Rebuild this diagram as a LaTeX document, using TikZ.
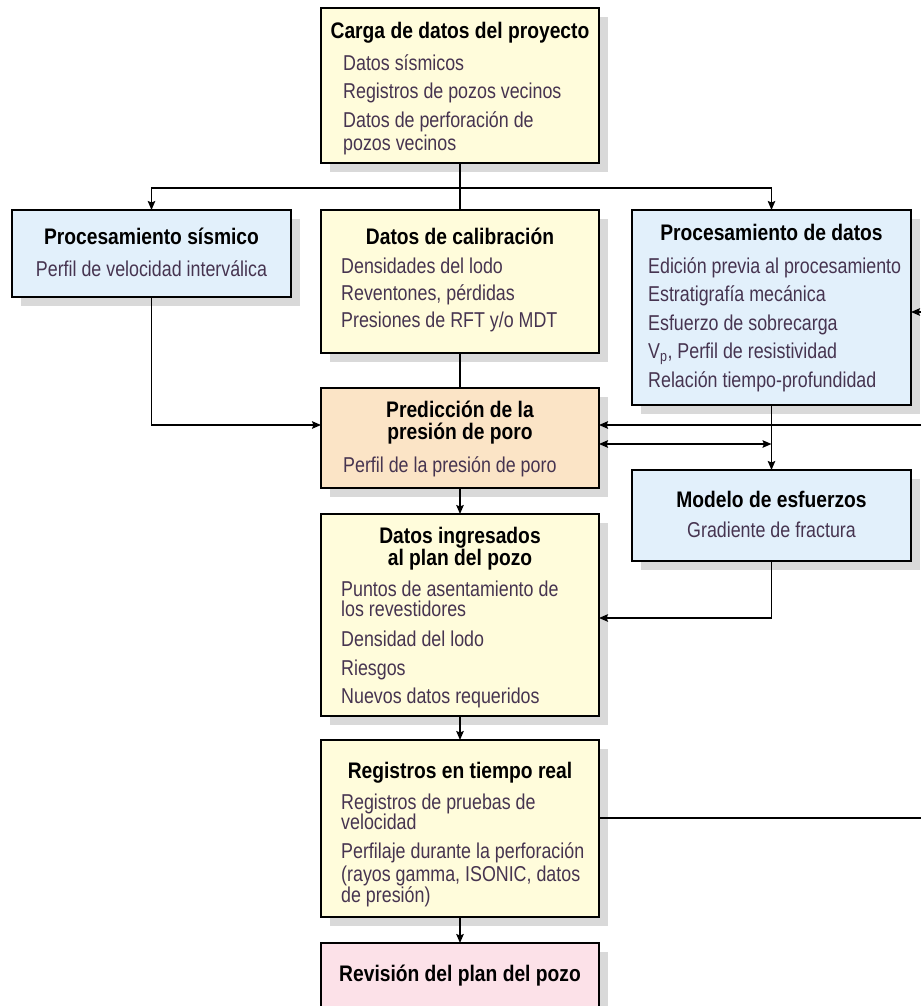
\documentclass[tikz,border=0pt]{standalone}
\usepackage{fontspec}
\usetikzlibrary{arrows.meta,shadows}
\newfontfamily\itemfont{Liberation Sans}[FakeStretch=0.83]
\newfontfamily\headfont{Liberation Sans}[FakeStretch=0.855]
\definecolor{creamfill}{RGB}{255,252,219}
\definecolor{bluefill}{RGB}{226,240,251}
\definecolor{peachfill}{RGB}{251,228,198}
\definecolor{pinkfill}{RGB}{252,225,232}
\definecolor{shadowgray}{RGB}{217,217,217}
\definecolor{itemcol}{RGB}{70,52,80}
\tikzset{
  box/.style={draw=black, line width=1.6pt, inner sep=0pt, outer sep=0pt,
    drop shadow={shadow xshift=9pt, shadow yshift=-9pt, fill=shadowgray, opacity=1}},
  cream/.style={box, fill=creamfill},
  blue/.style={box, fill=bluefill},
  peach/.style={box, fill=peachfill},
  pink/.style={box, fill=pinkfill},
  head/.style={font=\headfont\bfseries\fontsize{22.5}{22.5}\selectfont, inner sep=0pt, anchor=base},
  item/.style={font=\itemfont\fontsize{21.5}{21.5}\selectfont, text=itemcol, inner sep=0pt, anchor=base west},
  itemc/.style={item, anchor=base},
  conn/.style={draw=black, line width=1.5pt},
  arr/.style={conn, -{Stealth[length=9pt, width=7.5pt, inset=1.5pt]}},
  dblarr/.style={conn, {Stealth[length=9pt, width=7.5pt, inset=1.5pt]}-{Stealth[length=9pt, width=7.5pt, inset=1.5pt]}}
}
\begin{document}
\begin{tikzpicture}[x=1pt, y=-1pt]
\useasboundingbox (0,0) rectangle (921,1006);
\clip (0,0) rectangle (921,1006);
\fill[white] (0,0) rectangle (921,1006);

% ---- boxes ----
\node[cream, minimum width=278pt, minimum height=155pt] (carga) at (460,85.5) {};
\node[blue,  minimum width=279pt, minimum height=87pt]  (sism)  at (151.5,253.5) {};
\node[cream, minimum width=278pt, minimum height=143pt] (calib) at (460,281.5) {};
\node[blue,  minimum width=279pt, minimum height=195pt] (procd) at (771.5,307.5) {};
\node[peach, minimum width=278pt, minimum height=100pt] (pred)  at (460,438) {};
\node[blue,  minimum width=279pt, minimum height=91pt]  (model) at (771.5,515.5) {};
\node[cream, minimum width=278pt, minimum height=202pt] (ingr)  at (460,615) {};
\node[cream, minimum width=278pt, minimum height=177pt] (regis) at (460,828.5) {};
\node[pink,  minimum width=278pt, minimum height=87pt]  (revis) at (460,986.5) {};

% ---- texts ----
\node[head] (cargaT) at (460,39) {Carga de datos del proyecto};
\node[item] (carga1) at (343,71)  {Datos sísmicos};
\node[item] (carga2) at (343,99)  {Registros de pozos vecinos};
\node[item] (carga3) at (343,128) {Datos de perforación de};
\node[item] (carga4) at (343,150) {pozos vecinos};

\node[head]  (sismT) at (151.5,244) {Procesamiento sísmico};
\node[itemc] (sism1) at (151.5,276) {Perfil de velocidad interválica};

\node[head] (calibT) at (460,244) {Datos de calibración};
\node[item] (calib1) at (341,273) {Densidades del lodo};
\node[item] (calib2) at (341,300) {Reventones, pérdidas};
\node[item] (calib3) at (341,327) {Presiones de RFT y/o MDT};

\node[head] (procdT) at (771.5,240) {Procesamiento de datos};
\node[item] (procd1) at (648,273) {Edición previa al procesamiento};
\node[item] (procd2) at (648,301) {Estratigrafía mecánica};
\node[item] (procd3) at (648,330) {Esfuerzo de sobrecarga};
\node[item] (procd4) at (648,358) {V\textsubscript{p}, Perfil de resistividad};
\node[item] (procd5) at (648,387) {Relación tiempo-profundidad};

\node[head] (predT1) at (460,417) {Predicción de la};
\node[head] (predT2) at (460,439) {presión de poro};
\node[item] (pred1)  at (343,472) {Perfil de la presión de poro};

\node[head]  (modelT) at (771.5,507) {Modelo de esfuerzos};
\node[itemc] (model1) at (771.5,537) {Gradiente de fractura};

\node[head] (ingrT1) at (460,543) {Datos ingresados};
\node[head] (ingrT2) at (460,565) {al plan del pozo};
\node[item] (ingr1) at (341,596) {Puntos de asentamiento de};
\node[item] (ingr2) at (341,616) {los revestidores};
\node[item] (ingr3) at (341,646) {Densidad del lodo};
\node[item] (ingr4) at (341,675) {Riesgos};
\node[item] (ingr5) at (341,703) {Nuevos datos requeridos};

\node[head] (regisT) at (460,778) {Registros en tiempo real};
\node[item] (regis1) at (341,809) {Registros de pruebas de};
\node[item] (regis2) at (341,829) {velocidad};
\node[item] (regis3) at (341,858) {Perfilaje durante la perforación};
\node[item] (regis4) at (341,881) {(rayos gamma, ISONIC, datos};
\node[item] (regis5) at (341,902) {de presión)};

\node[head] (revisT) at (460,981) {Revisión del plan del pozo};

% ---- connector points ----
\coordinate (split) at (460,188);
\coordinate (predin) at (321,425);
\coordinate (edgeA) at (921,312);
\coordinate (edgeB) at (921,425);
\coordinate (edgeC) at (921,818);
\coordinate (dbl) at (771.5,444);
\coordinate (ingrin) at (599,618);

% ---- connectors ----
\draw[conn] (carga.south) -- (calib.north);
\draw[arr] (split) -| (sism.north);
\draw[arr] (split) -| (procd.north);
\draw[conn] (calib.south) -- (pred.north);
\draw[arr] (sism.south) |- (predin);
\draw[arr] (edgeA) -- (procd.east |- edgeA);
\draw[arr] (edgeB) -- (pred.east |- edgeB);
\draw[dblarr] (pred.east |- dbl) -- (dbl);
\draw[arr] (procd.south) -- (model.north);
\draw[arr] (model.south) |- (ingrin);
\draw[arr] (pred.south) -- (ingr.north);
\draw[arr] (ingr.south) -- (regis.north);
\draw[arr] (regis.south) -- (revis.north);
\draw[conn] (regis.east |- edgeC) -- (edgeC);
\end{tikzpicture}
\end{document}
